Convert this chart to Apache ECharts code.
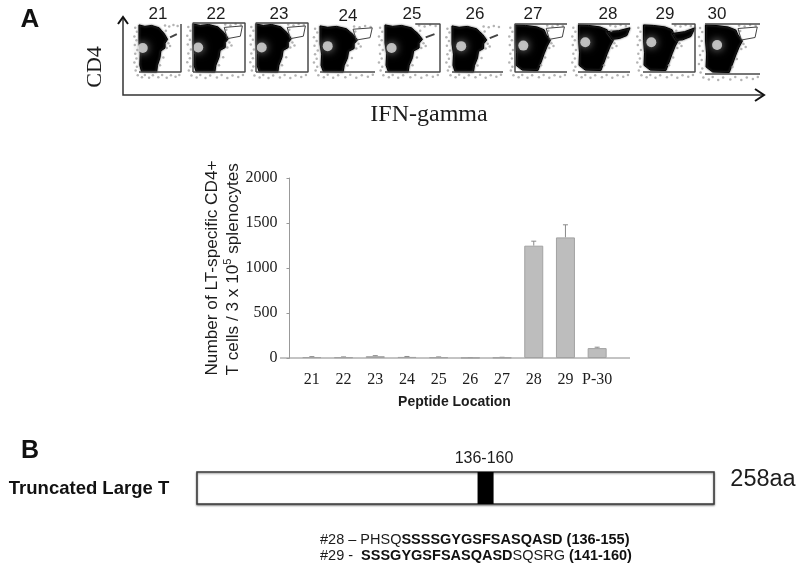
<!DOCTYPE html>
<html>
<head>
<meta charset="utf-8">
<title>LT-specific CD4+ T cells</title>
<script src="https://cdn.jsdelivr.net/npm/echarts@6/dist/echarts.min.js"></script>
<style>
html,body{margin:0;padding:0;background:#fff;}
#main{width:800px;height:569px;filter:blur(0.4px);}
</style>
</head>
<body>
<div id="main"></div>
<script>
// bar chart values
var peptides = ['21','22','23','24','25','26','27','28','29','P-30'];
var tCells = [10,8,20,12,8,3,5,1248,1340,110];
var tCellsErr = [5,4,6,5,4,2,3,50,140,10];
var yTicks = {min:0,max:2000,step:500};

var panelLabels = ['21','22','23','24','25','26','27','28','29','30'];
var blobNarrow = [[0,98],[14,95],[30,97],[48,92],[54,86],[60,80],[68,68],[62,60],[62,50],[52,44],[50,30],[44,14],[42,0],[6,1],[2,14],[3,38],[0,60]];
var blobWide = [[1,98],[20,97],[42,94],[56,88],[60,78],[68,66],[62,54],[56,38],[50,20],[44,3],[14,4],[2,14],[3,40],[1,66]];
var gateShape = [[60,91],[95,94],[91,73],[66,68]];
var tail28 = [[55,84],[78,86],[100,92],[94,76],[80,70],[66,68]];
var tail29 = [[56,80],[80,84],[100,92],[92,74],[76,67],[64,66]];
var streak = [[74,72],[90,79]];
var specks = [[-9,92],[-5,84],[-11,74],[-6,66],[-10,56],[-4,46],[-9,38],[-6,28],[-11,20],[-5,11],[-8,3],
	[-3,-7],[7,-11],[14,-6],[24,-12],[33,-7],[46,-11],[55,-6],[66,-12],[76,-7],[87,-10],[96,-6],
	[62,97],[72,95],[82,98],[92,96],[64,86],[70,60],[66,50],[74,54],[58,30],[50,14]];
var holes = {21:[9,50],22:[10,50],23:[11,50],24:[14,55],25:[12,50],26:[18,55],27:[16,55],28:[14,62],29:[16,62],30:[22,58]};
var panelShapes = {
	21:{blob:blobNarrow,gate:streak,frame:'rb'},
	22:{blob:blobNarrow,gate:gateShape,frame:'all'},
	23:{blob:blobNarrow,gate:gateShape,frame:'all'},
	24:{blob:blobNarrow,gate:gateShape,frame:'b'},
	25:{blob:blobNarrow,gate:streak,frame:'trb'},
	26:{blob:blobNarrow,gate:streak,frame:'b'},
	27:{blob:blobWide,gate:gateShape,frame:'tlb'},
	28:{blob:blobWide,tail:tail28,frame:'tb'},
	29:{blob:blobWide,tail:tail29,frame:'trb'},
	30:{blob:blobWide,gate:gateShape,frame:'tb'}
};
var frames = {
	all:[[0,0],[0,100],[100,100],[100,0],[0,0]],
	rb:[[100,100],[100,0],[0,0]],
	b:[[0,0],[100,0]],
	trb:[[55,100],[100,100],[100,0],[0,0]],
	tlb:[[100,100],[0,100],[0,0],[100,0]],
	tb:[[0,100],[100,100],[null,null],[0,0],[100,0]]
};

// schematic of the truncated protein, band is where it is drawn on the 258aa box
var proteinLength = 258;
var drawnBand = [140,148];

// left, top, right, bottom of each flow plot on the page
var panelBoxes = [[139,24,181,72],[193,23,245,72],[256,23,308,72],[320,25,375,72],[385,24,440,72],
	[452,25,503,72],[515,24,567,72],[578,24,630,72],[643,24,695,72],[705,24,760,74]];
var labelX = [158,216,279,348,412,475,533,608,665,717];
var labelY = [14,14,14,16,14,14,14,14,14,14];

var SANS = '"Liberation Sans", Arial, sans-serif';
var SERIF = '"Liberation Serif", "Times New Roman", serif';
var INK = '#1c1c1c';

function polygonSeries(gridIdx,points,fill){
	return {
		type:'custom',
		xAxisIndex:gridIdx,
		yAxisIndex:gridIdx,
		clip:false,
		silent:true,
		data:points,
		renderItem:function(params,api){
			if(params.dataIndex !== 0) return;
			return {
				type:'polygon',
				shape:{points:points.map(function(p){return api.coord(p);})},
				style:{fill:fill,stroke:fill,lineWidth:1,shadowColor:'#555',shadowBlur:2}
			};
		}
	};
}

function textItem(text,x,y,font,color,rotation){
	var item = {
		type:'text',
		x:x,
		y:y,
		silent:true,
		style:{text:text,font:font,fill:color || INK,align:'center',verticalAlign:'middle'}
	};
	if(rotation) item.rotation = rotation;
	return item;
}

function lineItem(points,color,width){
	return {
		type:'polyline',
		silent:true,
		shape:{points:points},
		style:{stroke:color,lineWidth:width,fill:null}
	};
}

var grids = [
	{left:296,top:178,width:317,height:180},
	{left:197,top:472,width:517,height:32,show:true,backgroundColor:'#fff',borderColor:'#3a3a3a',borderWidth:1.5,shadowColor:'rgba(0,0,0,0.45)',shadowBlur:2,shadowOffsetY:1}
];
var xAxes = [
	{
		type:'category',
		gridIndex:0,
		data:peptides,
		axisLine:{show:false},
		axisTick:{show:false},
		axisLabel:{color:INK,fontFamily:SERIF,fontSize:16,margin:14,interval:0},
		name:'Peptide Location',
		nameLocation:'middle',
		nameGap:37,
		nameTextStyle:{color:INK,fontFamily:SANS,fontSize:14,fontWeight:'bold'}
	},
	{type:'value',gridIndex:1,min:0,max:proteinLength,show:false}
];
var yAxes = [
	{
		type:'value',
		gridIndex:0,
		min:yTicks.min,
		max:yTicks.max,
		interval:yTicks.step,
		offset:6.5,
		splitLine:{show:false},
		axisLine:{show:true,lineStyle:{color:'#999'}},
		axisTick:{show:true,length:3,lineStyle:{color:'#999'}},
		axisLabel:{color:INK,fontFamily:SERIF,fontSize:16,margin:12,formatter:function(v){return String(v);}},
		name:'{a|Number of LT-specific CD4+}\n{a|T cells / 3 x 10}{s|5}{a| splenocytes}',
		nameLocation:'middle',
		nameGap:46,
		nameTextStyle:{
			rich:{
				a:{color:INK,fontFamily:SANS,fontSize:17.2,lineHeight:21,align:'left'},
				s:{color:INK,fontFamily:SANS,fontSize:11,lineHeight:21,verticalAlign:'top',align:'left'}
			}
		}
	},
	{type:'value',gridIndex:1,min:0,max:1,show:false}
];

var series = [
	{
		type:'bar',
		xAxisIndex:0,
		yAxisIndex:0,
		data:tCells,
		barWidth:19,
		silent:true,
		itemStyle:{color:'#bdbdbd',borderColor:'#a2a2a2',borderWidth:1}
	},
	{
		type:'custom',
		xAxisIndex:0,
		yAxisIndex:0,
		silent:true,
		data:tCells.map(function(v,i){return [i,v,v+tCellsErr[i]];}),
		renderItem:function(params,api){
			var base = api.coord([api.value(0),api.value(1)]);
			var top = api.coord([api.value(0),api.value(2)]);
			var style = {stroke:'#8a8a8a',lineWidth:1,fill:null};
			return {
				type:'group',
				children:[
					{type:'line',shape:{x1:base[0],y1:base[1],x2:base[0],y2:top[1]},style:style},
					{type:'line',shape:{x1:base[0]-2.5,y1:top[1],x2:base[0]+2.5,y2:top[1]},style:style}
				]
			};
		}
	},
	{
		type:'custom',
		xAxisIndex:1,
		yAxisIndex:1,
		silent:true,
		data:[[drawnBand[0],drawnBand[1]]],
		renderItem:function(params,api){
			var a = api.coord([api.value(0),1]);
			var b = api.coord([api.value(1),0]);
			return {type:'rect',shape:{x:a[0],y:a[1],width:b[0]-a[0],height:b[1]-a[1]},style:{fill:'#000'}};
		}
	}
];

var graphics = [
	textItem('A',30,20,'bold 26px '+SANS,'#111'),
	textItem('B',30,451,'bold 25px '+SANS,'#111'),
	textItem('CD4',95,67,'22px '+SERIF,INK,Math.PI/2),
	textItem('IFN-gamma',429,115,'24px '+SERIF,INK),
	lineItem([[123,17],[123,95],[764,95]],'#333',1.5),
	lineItem([[118,24],[123,17],[128,24]],'#111',2),
	lineItem([[755,89],[764,95],[755,101]],'#111',2),
	lineItem([[280,358],[630,358]],'#888',1),
	textItem('136-160',484,459,'16px '+SANS,INK),
	textItem('258aa',763,480,'23.5px '+SANS,INK),
	textItem('Truncated Large T',89,489,'bold 18.5px '+SANS,'#111'),
	{
		type:'text',
		x:320,
		y:540,
		silent:true,
		style:{
			text:'{n|#28 – PHSQ}{b|SSSSGYGSFSASQASD}{b| (136-155)}',
			verticalAlign:'middle',
			rich:{
				n:{font:'14.5px '+SANS,fill:INK},
				b:{font:'bold 14.5px '+SANS,fill:'#111'}
			}
		}
	},
	{
		type:'text',
		x:320,
		y:556,
		silent:true,
		style:{
			text:'{n|#29 -  }{b|SSSGYGSFSASQASD}{n|SQSRG }{b|(141-160)}',
			verticalAlign:'middle',
			rich:{
				n:{font:'14.5px '+SANS,fill:INK},
				b:{font:'bold 14.5px '+SANS,fill:'#111'}
			}
		}
	}
];

// one small grid per flow plot
panelLabels.forEach(function(label,i){
	var box = panelBoxes[i];
	var idx = grids.length;
	var shape = panelShapes[label];
	grids.push({left:box[0],top:box[1],width:box[2]-box[0],height:box[3]-box[1]});
	xAxes.push({type:'value',gridIndex:idx,min:0,max:100,show:false});
	yAxes.push({type:'value',gridIndex:idx,min:0,max:100,show:false});

	series.push(polygonSeries(idx,shape.blob,'#000'));
	if(shape.tail) series.push(polygonSeries(idx,shape.tail,'#000'));
	series.push({
		type:'scatter',
		xAxisIndex:idx,
		yAxisIndex:idx,
		data:[holes[label]],
		symbolSize:10,
		silent:true,
		itemStyle:{color:'#e0e0e0',shadowColor:'#bbb',shadowBlur:8}
	});
	series.push({
		type:'scatter',
		xAxisIndex:idx,
		yAxisIndex:idx,
		data:specks,
		symbolSize:2.5,
		clip:false,
		silent:true,
		itemStyle:{color:'#a0a0a0'}
	});
	if(shape.gate){
		series.push({
			type:'line',
			xAxisIndex:idx,
			yAxisIndex:idx,
			data:shape.gate === streak ? shape.gate : shape.gate.concat([shape.gate[0]]),
			showSymbol:false,
			silent:true,
			clip:false,
			lineStyle:{color:'#444',width:shape.gate === streak ? 2 : 1}
		});
	}
	series.push({
		type:'line',
		xAxisIndex:idx,
		yAxisIndex:idx,
		data:frames[shape.frame],
		showSymbol:false,
		connectNulls:false,
		silent:true,
		clip:false,
		lineStyle:{color:'#4a4a4a',width:1.5}
	});
	graphics.push(textItem(label,labelX[i],labelY[i],'17px '+SANS,INK));
});

var myChart = echarts.init(document.getElementById('main'),null,{renderer:'canvas'});
myChart.setOption({
	animation:false,
	backgroundColor:'#fff',
	grid:grids,
	xAxis:xAxes,
	yAxis:yAxes,
	series:series,
	graphic:graphics
});
</script>
</body>
</html>
